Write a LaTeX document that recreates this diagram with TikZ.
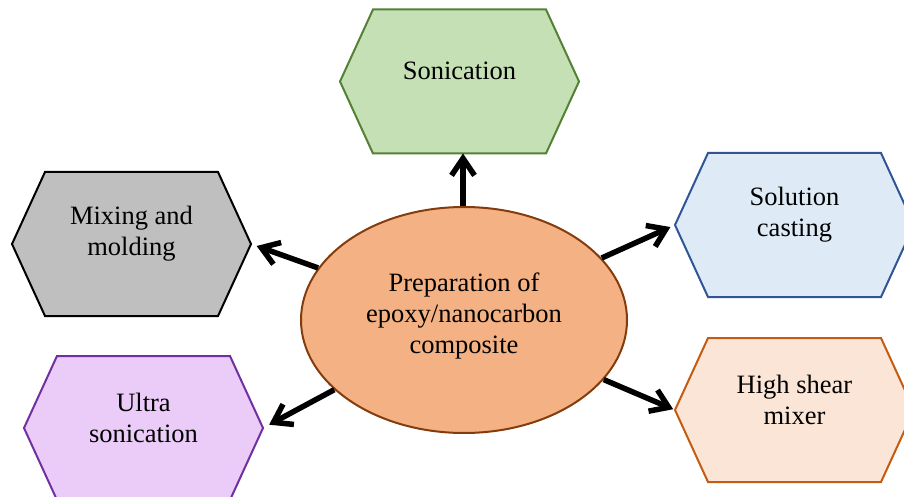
\documentclass[tikz,border=0pt]{standalone}
\usepackage{fontspec}
\setmainfont{Liberation Serif}
\usetikzlibrary{shapes.geometric,arrows.meta}
\definecolor{gfill}{HTML}{C5E0B4}\definecolor{gline}{HTML}{538135}
\definecolor{bfill}{HTML}{DEEBF7}\definecolor{bline}{HTML}{2F5597}
\definecolor{ofill}{HTML}{FBE5D6}\definecolor{oline}{HTML}{C55A11}
\definecolor{kfill}{HTML}{BFBFBF}\definecolor{kline}{HTML}{000000}
\definecolor{pfill}{HTML}{EBCCF8}\definecolor{pline}{HTML}{7030A0}
\definecolor{efill}{HTML}{F4B183}\definecolor{eline}{HTML}{843C0C}
\newcommand\hexbox[6]{% name, cx, cy, fill, line, text
  \draw[hexline,fill=#4,draw=#5] (#2-119.5,#3) coordinate (#1W) -- (#2-86.5,#3-72) -- (#2+86.5,#3-72)
    -- (#2+119.5,#3) coordinate (#1E) -- (#2+86.5,#3+72) coordinate (#1SE) -- (#2,#3+72) coordinate (#1S) -- (#2-86.5,#3+72) -- cycle;
  \node[lbl] (#1) at (#2,#3-10.5) {#6};
}
\begin{document}
\begin{tikzpicture}[x=1pt,y=-1pt,
  hexline/.style={line width=2pt,line join=miter},
  lbl/.style={align=center,inner sep=0pt,font=\fontsize{26.5}{31}\selectfont},
  arr/.style={line width=5.5pt,-{Straight Barb[length=17pt,width=23pt,line width=5.5pt]}}]
\useasboundingbox (0,0) rectangle (904,497);
\clip (0,0) rectangle (904,497);
\hexbox{son}{459.5}{81.5}{gfill}{gline}{Sonication}
\hexbox{sol}{794.5}{225}{bfill}{bline}{Solution\\casting}
\hexbox{hsm}{794.5}{410}{ofill}{oline}{High shear\\mixer}
\hexbox{mix}{131.5}{244}{kfill}{kline}{Mixing and\\molding}
\hexbox{ult}{143.5}{428}{pfill}{pline}{Ultra\\sonication}
\node[ellipse,draw=eline,fill=efill,line width=2pt,minimum width=326pt,minimum height=226pt,inner sep=0pt] (e) at (464,320) {};
\node[lbl] (etxt) at (464,316) {Preparation of\\epoxy/nanocarbon\\composite};
\coordinate (etop) at ([xshift=-1pt]e.north);
\draw[arr,shorten >=0pt] (etop) -- (etop |- sonS);
\draw[arr,shorten >=5pt] (e) -- (solW);
\draw[arr,shorten >=2pt] (e) -- (hsmW);
\draw[arr,shorten >=6pt] (e) -- (mixE);
\draw[arr,shorten >=7pt] (e) -- (ultE);
\end{tikzpicture}
\end{document}
